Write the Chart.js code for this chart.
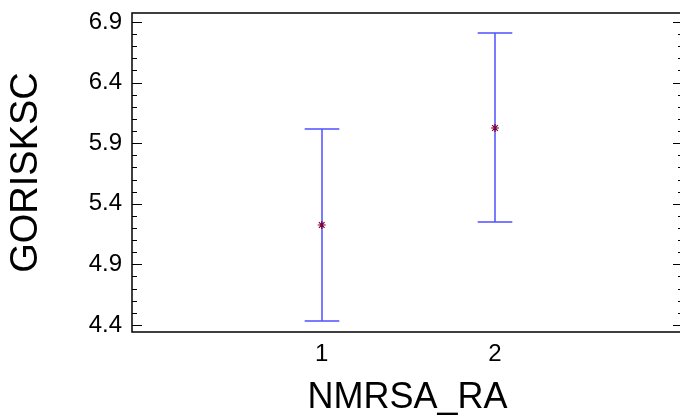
<!DOCTYPE html>
<html>
<head>
<meta charset="utf-8">
<script src="https://cdn.jsdelivr.net/npm/chart.js@4"></script>
<style>
  html, body { margin: 0; padding: 0; overflow: hidden; background: #fff; }
  #wrap { width: 684px; height: 420px; }
</style>
</head>
<body>
<div id="wrap"><canvas id="c" width="684" height="420"></canvas></div>
<script>
// data
const groups = [1, 2];
const groupLabels = ['1', '2'];
const means = [5.225, 6.025];
const lower = [4.43, 5.247];
const upper = [6.017, 6.809];
const yTicks = [4.4, 4.9, 5.4, 5.9, 6.4, 6.9];

const capHalf = 0.1;   // half width of whisker caps, in x units

// error bars, frame and inward tick marks
const frame = {
  id: 'frame',
  beforeDatasetsDraw(chart) {
    const { ctx, scales: { x, y } } = chart;
    ctx.save();
    ctx.strokeStyle = '#5050ff';
    ctx.lineWidth = 1.5;
    groups.forEach((g, i) => {
      const px = Math.round(x.getPixelForValue(g));
      const lo = Math.round(y.getPixelForValue(lower[i]));
      const hi = Math.round(y.getPixelForValue(upper[i]));
      const w = x.getPixelForValue(g + capHalf) - x.getPixelForValue(g);
      ctx.beginPath();
      ctx.moveTo(px, hi); ctx.lineTo(px, lo);
      ctx.moveTo(px - w, hi); ctx.lineTo(px + w, hi);
      ctx.moveTo(px - w, lo); ctx.lineTo(px + w, lo);
      ctx.stroke();
    });
    ctx.restore();
  },
  afterDraw(chart) {
    const { ctx, chartArea: a, scales: { y } } = chart;
    ctx.save();
    ctx.strokeStyle = '#000';
    ctx.lineWidth = 1.5;
    ctx.strokeRect(a.left, a.top, a.right - a.left, a.bottom - a.top);
    ctx.lineWidth = 1.2;
    ctx.beginPath();
    for (let k = 44; k <= 69; k++) {
      const py = Math.round(y.getPixelForValue(k / 10)) + 0.5;
      const len = (k - 44) % 5 === 0 ? 10 : 5;
      ctx.moveTo(a.left, py); ctx.lineTo(a.left + len, py);
      ctx.moveTo(a.right, py); ctx.lineTo(a.right - len, py);
    }
    ctx.stroke();
    ctx.restore();
  }
};

const noPad = s => { s.paddingTop = 0; s.paddingBottom = 0; s.paddingLeft = 0; s.paddingRight = 0; };

new Chart(document.getElementById('c'), {
  type: 'scatter',
  data: {
    datasets: [{
      data: groups.map((g, i) => ({ x: g, y: means[i] })),
      pointStyle: 'star',
      radius: 4,
      hoverRadius: 4,
      borderColor: '#80003c',
      backgroundColor: '#80003c',
      borderWidth: 1.2
    }]
  },
  options: {
    responsive: false,
    animation: false,
    devicePixelRatio: 1,
    layout: { autoPadding: false, padding: { top: 13, right: 1, left: 0, bottom: 0 } },
    plugins: { legend: { display: false }, tooltip: { enabled: false } },
    scales: {
      x: {
        type: 'linear',
        min: -0.095,
        max: 3.085,
        grid: { display: false, drawTicks: false },
        border: { display: false },
        afterBuildTicks: s => { s.ticks = groups.map(v => ({ value: v })); },
        afterFit: s => { s.height = 88; noPad(s); },
        ticks: {
          padding: 8,
          color: '#000',
          font: { family: 'Liberation Sans, Arial', size: 24 },
          callback: v => groupLabels[groups.indexOf(v)]
        },
        title: {
          display: true,
          text: 'NMRSA_RA',
          color: '#000',
          padding: { top: 0, bottom: 0 },
          font: { family: 'Liberation Sans, Arial', size: 36 }
        }
      },
      y: {
        min: 4.342,
        max: 6.974,
        grid: { display: false, drawTicks: false },
        border: { display: false },
        afterBuildTicks: s => { s.ticks = yTicks.map(v => ({ value: v })); },
        afterFit: s => { s.width = 132; noPad(s); },
        ticks: {
          padding: 10,
          color: '#000',
          font: { family: 'Liberation Sans, Arial', size: 24 },
          callback: v => v.toFixed(1)
        },
        title: {
          display: true,
          text: 'GORISKSC',
          color: '#000',
          padding: { top: 4, bottom: 0 },
          font: { family: 'Liberation Sans, Arial', size: 38 }
        }
      }
    }
  },
  plugins: [frame]
});
</script>
</body>
</html>
